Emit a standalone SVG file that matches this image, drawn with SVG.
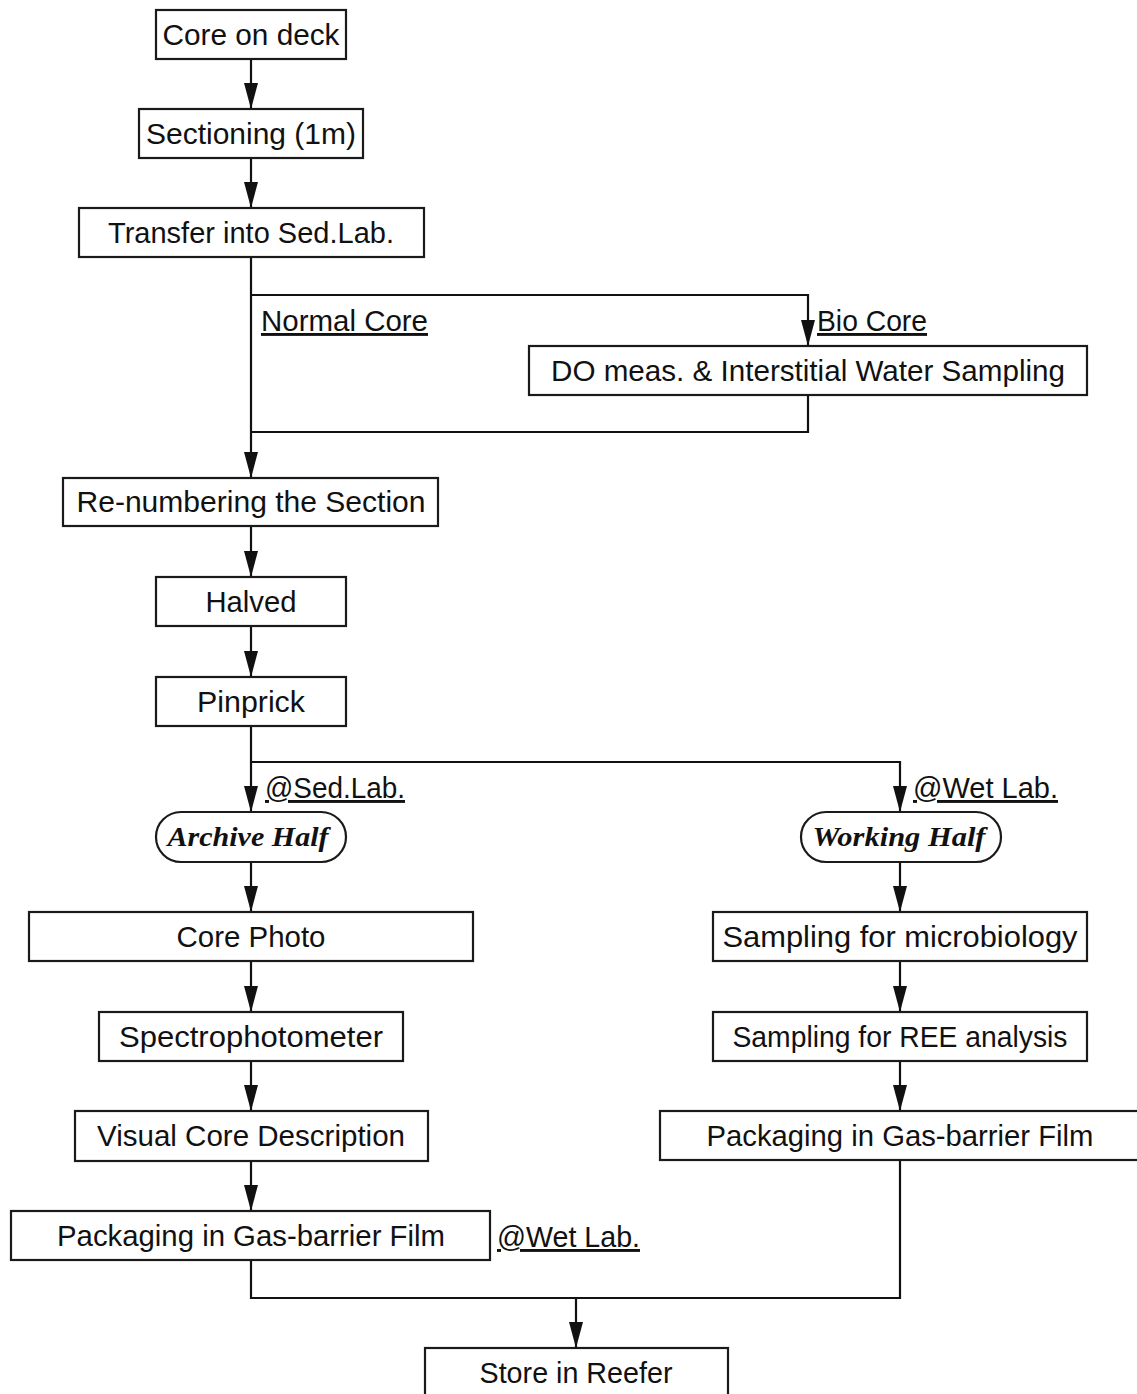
<svg xmlns="http://www.w3.org/2000/svg" width="1137" height="1394" viewBox="0 0 1137 1394">
<style>
.box{fill:#fff;stroke:#1a1a1a;stroke-width:2.2}
.t{font-family:"Liberation Sans",Arial,sans-serif;font-size:29px;fill:#111;text-anchor:middle}
.l{font-family:"Liberation Sans",Arial,sans-serif;font-size:29px;fill:#111;text-decoration:underline}
.it{font-family:"Liberation Serif","Times New Roman",serif;font-size:28px;font-weight:bold;font-style:italic;fill:#111;text-anchor:middle}
.c{fill:none;stroke:#111;stroke-width:2.2}
</style>
<defs>
<marker id="ah" markerUnits="userSpaceOnUse" markerWidth="14" markerHeight="26" refX="7" refY="25" orient="auto-start-reverse" viewBox="0 0 14 26">
<path d="M0,0 L14,0 L7,26 Z" fill="#111" transform="rotate(0)"/>
</marker>
<marker id="arr" markerUnits="userSpaceOnUse" markerWidth="26" markerHeight="14" refX="25" refY="7" orient="auto" viewBox="0 0 26 14">
<path d="M0,0 L26,7 L0,14 Z" fill="#111"/>
</marker>
</defs>
<rect width="1137" height="1394" fill="#fff"/>
<g id="connectors">
<line class="c" x1="251" y1="59" x2="251" y2="108" marker-end="url(#arr)"/>
<line class="c" x1="251" y1="158" x2="251" y2="207" marker-end="url(#arr)"/>
<line class="c" x1="251" y1="257" x2="251" y2="477" marker-end="url(#arr)"/>
<polyline class="c" points="251,295 808,295 808,345" marker-end="url(#arr)"/>
<polyline class="c" points="808,395 808,432 251,432"/>
<line class="c" x1="251" y1="526" x2="251" y2="576" marker-end="url(#arr)"/>
<line class="c" x1="251" y1="626" x2="251" y2="676" marker-end="url(#arr)"/>
<line class="c" x1="251" y1="726" x2="251" y2="811" marker-end="url(#arr)"/>
<polyline class="c" points="251,762 900,762 900,811" marker-end="url(#arr)"/>
<line class="c" x1="251" y1="862" x2="251" y2="911" marker-end="url(#arr)"/>
<line class="c" x1="251" y1="961" x2="251" y2="1011" marker-end="url(#arr)"/>
<line class="c" x1="251" y1="1061" x2="251" y2="1110" marker-end="url(#arr)"/>
<line class="c" x1="251" y1="1161" x2="251" y2="1210" marker-end="url(#arr)"/>
<line class="c" x1="900" y1="862" x2="900" y2="911" marker-end="url(#arr)"/>
<line class="c" x1="900" y1="961" x2="900" y2="1011" marker-end="url(#arr)"/>
<line class="c" x1="900" y1="1061" x2="900" y2="1110" marker-end="url(#arr)"/>
<polyline class="c" points="251,1260 251,1298 900,1298 900,1160"/>
<line class="c" x1="576" y1="1298" x2="576" y2="1347" marker-end="url(#arr)"/>
</g>
<g id="labels">
<text class="l" x="261" y="331" textLength="167" lengthAdjust="spacingAndGlyphs">Normal Core</text>
<text class="l" x="817" y="331" textLength="110" lengthAdjust="spacingAndGlyphs">Bio Core</text>
<text class="l" x="265" y="798" textLength="140" lengthAdjust="spacingAndGlyphs">@Sed.Lab.</text>
<text class="l" x="913" y="798" textLength="145" lengthAdjust="spacingAndGlyphs">@Wet Lab.</text>
<text class="l" x="497" y="1247" textLength="143" lengthAdjust="spacingAndGlyphs">@Wet Lab.</text>
</g>
<g id="n1"><rect class="box" x="156" y="10" width="190" height="49"/><text class="t" x="251" y="45" textLength="177" lengthAdjust="spacingAndGlyphs">Core on deck</text></g>
<g id="n2"><rect class="box" x="139" y="109" width="224" height="49"/><text class="t" x="251" y="144" textLength="210" lengthAdjust="spacingAndGlyphs">Sectioning (1m)</text></g>
<g id="n3"><rect class="box" x="79" y="208" width="345" height="49"/><text class="t" x="251" y="243" textLength="286" lengthAdjust="spacingAndGlyphs">Transfer into Sed.Lab.</text></g>
<g id="n4"><rect class="box" x="529" y="346" width="558" height="49"/><text class="t" x="808" y="381" textLength="514" lengthAdjust="spacingAndGlyphs">DO meas. &amp; Interstitial Water Sampling</text></g>
<g id="n5"><rect class="box" x="63" y="478" width="375" height="48"/><text class="t" x="251" y="512" textLength="349" lengthAdjust="spacingAndGlyphs">Re-numbering the Section</text></g>
<g id="n6"><rect class="box" x="156" y="577" width="190" height="49"/><text class="t" x="251" y="612" textLength="91" lengthAdjust="spacingAndGlyphs">Halved</text></g>
<g id="n7"><rect class="box" x="156" y="677" width="190" height="49"/><text class="t" x="251" y="712" textLength="108" lengthAdjust="spacingAndGlyphs">Pinprick</text></g>
<g id="n8"><rect class="box" x="156" y="812" width="190" height="50" rx="25" ry="25"/><text class="it" x="248" y="846" textLength="161" lengthAdjust="spacingAndGlyphs">Archive Half</text></g>
<g id="n9"><rect class="box" x="801" y="812" width="200" height="50" rx="25" ry="25"/><text class="it" x="899" y="846" textLength="173" lengthAdjust="spacingAndGlyphs">Working Half</text></g>
<g id="n10"><rect class="box" x="29" y="912" width="444" height="49"/><text class="t" x="251" y="947" textLength="149" lengthAdjust="spacingAndGlyphs">Core Photo</text></g>
<g id="n11"><rect class="box" x="99" y="1012" width="304" height="49"/><text class="t" x="251" y="1047" textLength="264" lengthAdjust="spacingAndGlyphs">Spectrophotometer</text></g>
<g id="n12"><rect class="box" x="75" y="1111" width="353" height="50"/><text class="t" x="251" y="1146" textLength="308" lengthAdjust="spacingAndGlyphs">Visual Core Description</text></g>
<g id="n13"><rect class="box" x="11" y="1211" width="479" height="49"/><text class="t" x="251" y="1246" textLength="388" lengthAdjust="spacingAndGlyphs">Packaging in Gas-barrier Film</text></g>
<g id="n14"><rect class="box" x="713" y="912" width="374" height="49"/><text class="t" x="900" y="947" textLength="355" lengthAdjust="spacingAndGlyphs">Sampling for microbiology</text></g>
<g id="n15"><rect class="box" x="713" y="1012" width="374" height="49"/><text class="t" x="900" y="1047" textLength="335" lengthAdjust="spacingAndGlyphs">Sampling for REE analysis</text></g>
<g id="n16"><rect class="box" x="660" y="1111" width="490" height="49"/><text class="t" x="900" y="1146" textLength="387" lengthAdjust="spacingAndGlyphs">Packaging in Gas-barrier Film</text></g>
<g id="n17"><rect class="box" x="425" y="1348" width="303" height="60"/><text class="t" x="576" y="1383" textLength="193" lengthAdjust="spacingAndGlyphs">Store in Reefer</text></g>
</svg>
